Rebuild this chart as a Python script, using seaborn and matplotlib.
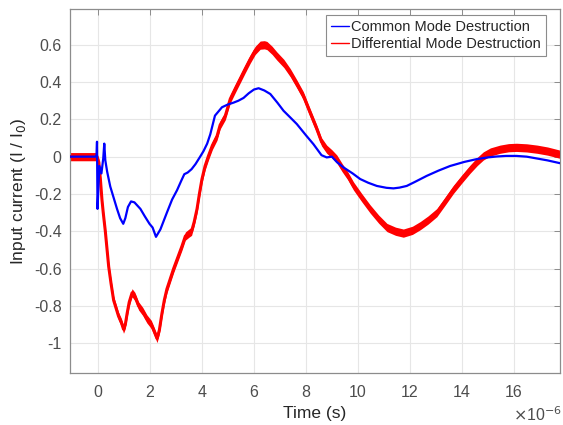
import pandas as pd
import matplotlib
matplotlib.use("Agg")
import matplotlib.pyplot as plt
import matplotlib.ticker as mticker
from matplotlib.lines import Line2D
import seaborn as sns

# --- dane (czas w mikrosekundach, prąd względny I/I0) ---
t_cm = [-1.08, -0.1, -0.06, -0.04, -0.02, 0.05, 0.13, 0.2, 0.24, 0.28, 0.35, 0.47, 0.6, 0.73, 0.85,
        0.97, 1.05, 1.15, 1.27, 1.4, 1.63, 1.8, 1.98, 2.1, 2.23, 2.4, 2.65, 2.85, 3.04, 3.2, 3.32,
        3.45, 3.6, 3.75, 3.93, 4.06, 4.2, 4.32, 4.5, 4.77, 5.0, 5.22, 5.4, 5.6, 5.8, 6.0, 6.18, 6.4,
        6.63, 6.9, 7.14, 7.4, 7.65, 8.0, 8.29, 8.6, 8.8, 9.0, 9.2, 9.45, 9.8, 10.09, 10.4, 10.73,
        11.1, 11.37, 11.6, 11.88, 12.2, 12.65, 13.1, 13.55, 14.1, 14.58, 15.0, 15.35, 15.7, 16.1,
        16.5, 16.9, 17.3, 17.78]
i_cm = [0.0, 0.0, 0.0, 0.08, -0.28, -0.05, -0.09, -0.01, 0.07, -0.02, -0.08, -0.16, -0.22, -0.28, -0.33,
        -0.36, -0.33, -0.27, -0.24, -0.245, -0.28, -0.32, -0.36, -0.38, -0.43, -0.39, -0.30, -0.23, -0.18, -0.13, -0.094,
        -0.085, -0.067, -0.04, 0.0, 0.03, 0.07, 0.12, 0.22, 0.265, 0.28, 0.29, 0.30, 0.315, 0.34, 0.36, 0.367, 0.355,
        0.336, 0.29, 0.246, 0.21, 0.175, 0.115, 0.067, 0.008, -0.004, 0.0, -0.03, -0.058, -0.09, -0.12, -0.14, -0.157,
        -0.167, -0.17, -0.166, -0.157, -0.135, -0.103, -0.075, -0.05, -0.028, -0.013, -0.004, 0.001, 0.004, 0.004,
        0.0, -0.01, -0.02, -0.035]

t_dm = [-1.08, -0.5, -0.05, 0.03, 0.09, 0.15, 0.2, 0.28, 0.41, 0.5, 0.6, 0.79, 0.9, 0.98, 1.05, 1.12,
        1.2, 1.31, 1.42, 1.56, 1.72, 1.88, 2.05, 2.14, 2.27, 2.36, 2.46, 2.55, 2.65, 2.91, 3.07, 3.23,
        3.36, 3.5, 3.6, 3.7, 3.81, 3.9, 4.0, 4.12, 4.25, 4.4, 4.58, 4.7, 4.9, 5.09, 5.3, 5.47, 5.66,
        5.86, 6.05, 6.24, 6.4, 6.5, 6.7, 6.88, 7.15, 7.4, 7.65, 7.9, 8.15, 8.42, 8.6, 8.8, 9.0, 9.19,
        9.4, 9.6, 9.83, 10.15, 10.47, 10.8, 11.12, 11.45, 11.75, 12.1, 12.4, 12.7, 13.04, 13.35, 13.68,
        14.0, 14.32, 14.6, 14.83, 15.1, 15.47, 15.8, 16.1, 16.5, 16.9, 17.3, 17.78]
i_dm = [0.0, 0.0, 0.0, -0.03, -0.12, -0.23, -0.3, -0.40, -0.59, -0.68, -0.77, -0.856, -0.89, -0.925, -0.90, -0.84,
        -0.78, -0.73, -0.75, -0.80, -0.83, -0.87, -0.90, -0.93, -0.975, -0.93, -0.84, -0.77, -0.71, -0.60, -0.54, -0.48,
        -0.426, -0.41, -0.40, -0.35, -0.28, -0.2, -0.12, -0.05, 0.004, 0.06, 0.11, 0.17, 0.22, 0.31, 0.37, 0.417, 0.47,
        0.524, 0.57, 0.598, 0.60, 0.596, 0.57, 0.54, 0.50, 0.45, 0.39, 0.327, 0.24, 0.148, 0.08, 0.04, 0.015, -0.013,
        -0.06, -0.10, -0.157, -0.22, -0.28, -0.335, -0.38, -0.40, -0.41, -0.395, -0.37, -0.34, -0.30, -0.24, -0.175,
        -0.12, -0.067, -0.025, 0.004, 0.025, 0.04, 0.048, 0.05, 0.047, 0.04, 0.03, 0.013]

labels = ["Common Mode Destruction", "Differential Mode Destruction"]
colors = ["#0000ff", "#ff0000"]

df = pd.concat([
    pd.DataFrame({"t": t_cm, "i": i_cm, "seria": labels[0]}),
    pd.DataFrame({"t": t_dm, "i": i_dm, "seria": labels[1]}),
], ignore_index=True)

# --- styl ---
sns.set_style("whitegrid")
plt.rcParams["font.family"] = ["Liberation Sans", "DejaVu Sans"]
plt.rcParams["axes.unicode_minus"] = False

fig = plt.figure(figsize=(5.63, 4.25), dpi=100)
ax = fig.add_axes([0.1243, 0.1224, 0.8704, 0.8556])

# szum pomiaru czerwonej krzywej -> pas
dm = df[df["seria"] == labels[1]]
ax.fill_between(dm["t"], dm["i"] - 0.022, dm["i"] + 0.022, color=colors[1], lw=0, zorder=2)

sns.lineplot(data=dm, x="t", y="i", color=colors[1], lw=2.2,
             ax=ax, legend=False, zorder=3, sort=False)
sns.lineplot(data=df[df["seria"] == labels[0]], x="t", y="i", color=colors[0], lw=1.6,
             ax=ax, legend=False, zorder=4, sort=False)

ax.set_xlim(-1.08, 17.78)
ax.set_ylim(-1.16, 0.79)
ax.xaxis.set_major_locator(mticker.MultipleLocator(2))
ax.yaxis.set_major_locator(mticker.MultipleLocator(0.2))
fmt = mticker.FuncFormatter(lambda v, p: f"{v:g}" if abs(v) > 1e-9 else "0")
ax.xaxis.set_major_formatter(fmt)
ax.yaxis.set_major_formatter(fmt)

gray = "#262626"
ax.grid(True, color="#e6e6e6", lw=0.8)
for s in ax.spines.values():
    s.set_color("#8c8c8c")
    s.set_linewidth(0.9)
ax.tick_params(direction="in", top=True, right=True, length=4, width=0.7,
               color="#8c8c8c", labelcolor="#4d4d4d", labelsize=11.5)
ax.tick_params(axis="x", pad=9)
ax.tick_params(axis="y", pad=6)

ax.text(1.004, -0.115, r"$\times$10$^{-6}$", transform=ax.transAxes, ha="right", va="center",
        fontsize=11.5, color="#4d4d4d")

ax.set_xlabel("Time (s)", fontsize=12.5, color=gray, labelpad=4)
ax.set_ylabel("Input current (I / I$_0$)", fontsize=12.5, color=gray)

handles = [Line2D([], [], color=c, lw=1) for c in colors]
leg = ax.legend(handles, labels, loc="upper right", bbox_to_anchor=(0.9714, 0.984), fontsize=10.5,
                frameon=True, fancybox=False, framealpha=1, edgecolor="#8c8c8c",
                handlelength=1.2, handletextpad=0.15, borderpad=0.35, labelspacing=0.2,
                borderaxespad=0)
leg.get_frame().set_linewidth(0.8)

fig.savefig("out.png", dpi=100)
